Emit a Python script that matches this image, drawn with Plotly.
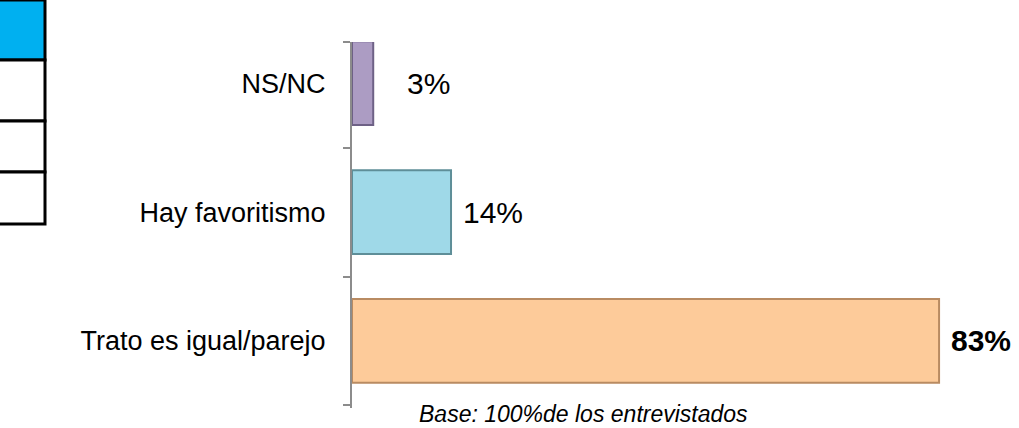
import plotly.graph_objects as go

categories = ["Trato es igual/parejo", "Hay favoritismo", "NS/NC"]
values = [83, 14, 3]
labels = ["<b>83%</b>", "14%", "3%"]
footnote = "Base: 100%de los entrevistados"

bar_colors = ["#FDCB9A", "#9FD9E8", "#AC9CC3"]
edge_colors = ["#B98B62", "#5E8E98", "#6E6186"]
label_shift = [10, 10, 32]

W, H = 1019, 428
L, R, T, B = 352, 0, 42, 20
PW, PH = W - L - R, H - T - B


def px_x(px):
    return (px - L) / PW


def px_y(py):
    return (H - B - py) / PH


fig = go.Figure()
fig.add_trace(go.Bar(
    y=list(range(len(categories))),
    x=values,
    orientation="h",
    width=0.65,
    marker=dict(color=bar_colors, line=dict(color=edge_colors, width=2)),
    hoverinfo="skip",
))

for i, (v, lab) in enumerate(zip(values, labels)):
    fig.add_annotation(x=v, y=i, xref="x", yref="y", text=lab, showarrow=False,
                       xanchor="left", yanchor="middle", xshift=label_shift[i],
                       font=dict(family="Liberation Sans, Arial, sans-serif", size=30,
                                 color="#000000"))

# left cut-off table boxes
boxes = [(0, 60, "#00B0F0"), (60, 121, "#FFFFFF"), (121, 172, "#FFFFFF"), (172, 224, "#FFFFFF")]
for top, bot, col in boxes:
    fig.add_shape(type="rect", xref="paper", yref="paper",
                  x0=px_x(-10), x1=px_x(45), y0=px_y(bot), y1=px_y(top),
                  fillcolor=col, line=dict(color="#000000", width=3), layer="above")

fig.add_annotation(text=footnote, xref="paper", yref="paper",
                   x=px_x(583), y=px_y(414), xanchor="center", yanchor="middle",
                   showarrow=False,
                   font=dict(family="Liberation Sans, Arial, sans-serif", size=23,
                             style="italic", color="#000000"))

fig.update_layout(
    width=W, height=H,
    margin=dict(l=L, r=R, t=T, b=B, pad=0),
    paper_bgcolor="#FFFFFF", plot_bgcolor="#FFFFFF",
    showlegend=False,
    xaxis=dict(range=[0, 94.3], visible=False, fixedrange=True),
    yaxis=dict(
        range=[-0.52, 2.32],
        tickmode="array",
        tickvals=list(range(len(categories))),
        ticktext=categories,
        ticks="",
        showgrid=False, zeroline=False,
        showline=True, linecolor="#8C8C8C", linewidth=2,
        tickfont=dict(family="Liberation Sans, Arial, sans-serif", size=27, color="#000000"),
        ticklabelstandoff=19,
        minor=dict(tickmode="array", tickvals=[-0.5, 0.5, 1.5, 2.32],
                   ticks="outside", ticklen=7, tickwidth=2, tickcolor="#8C8C8C",
                   showgrid=False),
        fixedrange=True,
    ),
)

fig.write_html("out.html", config={"displayModeBar": False},
               post_script="document.body.style.margin='0';document.body.style.overflow='hidden';")
